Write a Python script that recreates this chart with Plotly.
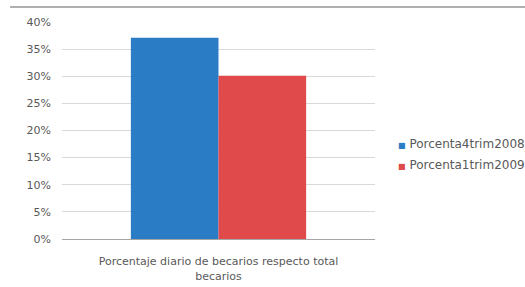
import plotly.graph_objects as go

categories = ["Porcentaje diario de becarios respecto total<br>becarios"]
series_names = ["Porcenta4trim2008", "Porcenta1trim2009"]
values_4trim2008 = [0.371]
values_1trim2009 = [0.301]
tick_vals = [0, 0.05, 0.10, 0.15, 0.20, 0.25, 0.30, 0.35, 0.40]
tick_text = ["0%", "5%", "10%", "15%", "20%", "25%", "30%", "35%", "40%"]

colors = ["#2a7dc4", "#e04a4a"]
FONT = "DejaVu Sans, Open Sans, sans-serif"
font = dict(family=FONT, size=11, color="#595959")

fig = go.Figure()
for name, vals, col in zip(series_names, [values_4trim2008, values_1trim2009], colors):
    fig.add_trace(go.Bar(x=categories, y=vals, name=name, showlegend=False,
                         marker=dict(color=col, line=dict(width=0))))
    # legend entry: coloured square glyph directly before the name
    label = f'<span style="color:{col};font-size:8px">■</span> {name}'
    fig.add_trace(go.Scatter(x=[None], y=[None], mode="markers", name=label,
                             legendgroup=name,
                             marker=dict(symbol="square", size=1, color="rgba(0,0,0,0)")))

fig.update_layout(
    width=525, height=287,
    margin=dict(l=62, r=150, t=22, b=48, autoexpand=False),
    paper_bgcolor="white", plot_bgcolor="white",
    font=font,
    barmode="group", bargap=0.44, bargroupgap=0,
    showlegend=True,
    legend=dict(x=(358 - 62) / 313, y=0.394, yanchor="middle", xanchor="left",
                font=dict(family=FONT, size=12, color="#595959"), itemwidth=30,
                tracegroupgap=2, bgcolor="rgba(0,0,0,0)"),
    xaxis=dict(showgrid=False, showline=True, linecolor="#a6a6a6", linewidth=1,
               ticks="", ticklabelstandoff=12, automargin=False,
               tickfont=dict(family=FONT, size=11, color="#595959")),
    yaxis=dict(range=[0, 0.40], tickvals=tick_vals, ticktext=tick_text,
               showgrid=True, gridcolor="#d9d9d9", gridwidth=1, automargin=False,
               zeroline=False, showline=False, ticks="", ticklabelstandoff=10,
               tickfont=dict(family=FONT, size=11, color="#595959")),
    shapes=[dict(type="line", xref="paper", yref="paper", x0=-0.166, x1=1.5,
                 y0=1.069, y1=1.069, line=dict(color="#b0b0b0", width=2))],
)

fig.write_html("out.html", config={"displayModeBar": False},
               post_script="document.body.style.margin='0';")
